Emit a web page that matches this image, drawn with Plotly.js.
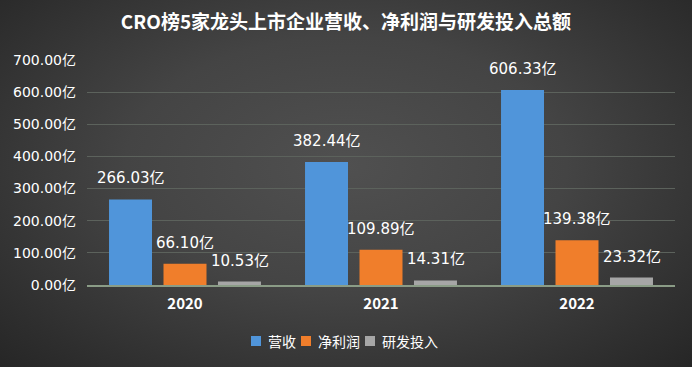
<!DOCTYPE html>
<html><head><meta charset="utf-8">
<script src="https://cdn.plot.ly/plotly-3.0.1.min.js"></script>
<style>
html,body{margin:0;padding:0;width:692px;height:367px;overflow:hidden;
background:radial-gradient(ellipse at 50% 45%, #505050 0%, #444444 45%, #2e2e2e 85%, #262626 100%);}
#chart{width:692px;height:367px;}
</style></head><body><div id="chart"></div>
<script>
const years = ['2020','2021','2022'];
const revenue = [266.03, 382.44, 606.33];
const netProfit = [66.10, 109.89, 139.38];
const rdSpend = [10.53, 14.31, 23.32];
const seriesNames = ['营收','净利润','研发投入'];
const yTicks = [0,100,200,300,400,500,600,700];

const colors = ['#5095da','#f07e2b','#a6a6a6'];
const series = [revenue, netProfit, rdSpend];
const cjk = "'Noto Sans CJK SC', 'Noto Sans', sans-serif";
const num = "'DejaVu Sans', 'Noto Sans CJK SC', sans-serif";

const traces = series.map((vals,i)=>({
  type:'bar', name:seriesNames[i], x:years, y:vals,
  marker:{color:colors[i], line:{width:0}},
  hoverinfo:'skip', showlegend:false
}));

const offsets = [-54.5, 0, 54.5];
const annotations = [];
series.forEach((vals,i)=>{
  vals.forEach((v,j)=>{
    annotations.push({x:j, y:v, xref:'x', yref:'y', text:v.toFixed(2)+'亿',
      showarrow:false, xshift:offsets[i], yshift:21, yanchor:'middle',
      font:{family:num, size:15, color:'#ffffff'}});
  });
});

// custom compact legend
const legendSq = [251, 301, 365];
const legendTx = [266, 316, 380];
const shapes = [];
const px2x = p => (p-87)/588;
const py2y = p => (285-p)/225;
seriesNames.forEach((n,i)=>{
  shapes.push({type:'rect', xref:'paper', yref:'paper',
    x0:px2x(legendSq[i]), x1:px2x(legendSq[i]+10), y0:py2y(346), y1:py2y(336),
    fillcolor:colors[i], line:{width:0}});
  annotations.push({xref:'paper', yref:'paper', x:px2x(legendTx[i]), y:py2y(341),
    xanchor:'left', yanchor:'middle', text:n, showarrow:false,
    font:{family:cjk, size:14, color:'#ffffff'}});
});

const layout = {
  width:692, height:367,
  paper_bgcolor:'rgba(0,0,0,0)', plot_bgcolor:'rgba(0,0,0,0)',
  margin:{l:87, r:17, t:60, b:82},
  title:{text:'<b>CRO榜5家龙头上市企业营收、净利润与研发投入总额</b>', x:0.5, xanchor:'center', y:0.94, yanchor:'middle',
    font:{family:cjk, size:19, color:'#ffffff'}},
  barmode:'group', bargap:0.166, bargroupgap:0.211,
  xaxis:{type:'category', range:[-0.5,2.5], showgrid:false, showline:true, linecolor:'#8a9c86', linewidth:2,
    ticks:'', ticklabelstandoff:4, tickfont:{family:cjk, size:15, color:'#ffffff', weight:'bold'}, fixedrange:true},
  yaxis:{range:[0,700], tickvals:yTicks, ticktext:yTicks.map(v=>v.toFixed(2)+'亿'),
    showgrid:true, gridcolor:'#5c625c', gridwidth:1, zeroline:false, showline:false,
    ticks:'', ticklabelstandoff:10,
    tickfont:{family:num, size:14, color:'#ffffff'}, fixedrange:true},
  annotations:annotations,
  shapes:shapes,
  showlegend:false
};
Plotly.newPlot('chart', traces, layout, {displayModeBar:false, staticPlot:true});
</script></body></html>
